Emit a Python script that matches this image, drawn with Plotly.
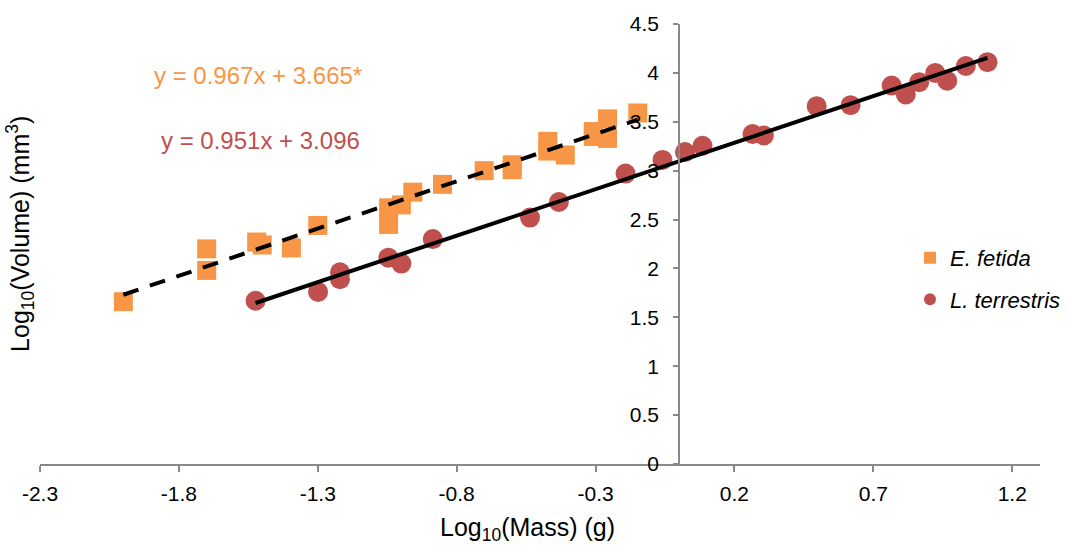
import plotly.graph_objects as go

# ---- data ----
fetida_x = [-2.00, -1.70, -1.70, -1.52, -1.50, -1.395, -1.30, -1.045, -1.045, -0.999, -0.958,
            -0.851, -0.701, -0.60, -0.60, -0.472, -0.472, -0.409, -0.308, -0.308, -0.257, -0.257, -0.148]
fetida_y = [1.66, 2.20, 1.98, 2.27, 2.24, 2.21, 2.44, 2.62, 2.45, 2.65, 2.78,
            2.86, 3.00, 3.06, 3.01, 3.30, 3.20, 3.16, 3.40, 3.35, 3.53, 3.33, 3.59]

terr_x = [-1.524, -1.299, -1.22, -1.22, -1.046, -0.999, -0.886, -0.536, -0.432, -0.192, -0.059,
          0.022, 0.085, 0.265, 0.306, 0.496, 0.618, 0.766, 0.817, 0.865, 0.923, 0.966, 1.033, 1.111]
terr_y = [1.67, 1.76, 1.96, 1.89, 2.11, 2.05, 2.30, 2.52, 2.68, 2.97, 3.11,
          3.19, 3.255, 3.375, 3.36, 3.66, 3.67, 3.87, 3.78, 3.905, 4.00, 3.92, 4.07, 4.11]

fetida_fit = (0.967, 3.665)
terr_fit = (0.951, 3.096)

x_range = [-2.3, 1.3]
y_range = [0, 4.5]
x_ticks = [-2.3, -1.8, -1.3, -0.8, -0.3, 0.2, 0.7, 1.2]
y_ticks = [0, 0.5, 1, 1.5, 2, 2.5, 3, 3.5, 4, 4.5]

ORANGE = "#F79646"
RED = "#C0504D"
AXIS = "#898989"
FONT = "Liberation Sans, Arial, sans-serif"

fig = go.Figure()

fig.add_trace(go.Scatter(x=fetida_x, y=fetida_y, mode="markers", name="<i>E. fetida</i>",
                         legendgroup="a",
                         marker=dict(symbol="square", size=19, color=ORANGE)))
fig.add_trace(go.Scatter(x=terr_x, y=terr_y, mode="markers", name="<i>L. terrestris</i>",
                         legendgroup="b",
                         marker=dict(symbol="circle", size=20, color=RED)))

# trend lines (drawn over the markers)
fx = [min(fetida_x), max(fetida_x)]
fig.add_trace(go.Scatter(x=fx, y=[fetida_fit[0] * v + fetida_fit[1] for v in fx], mode="lines",
                         line=dict(color="black", width=4, dash="16px,12px"), showlegend=False,
                         hoverinfo="skip"))
tx = [min(terr_x), max(terr_x)]
fig.add_trace(go.Scatter(x=tx, y=[terr_fit[0] * v + terr_fit[1] for v in tx], mode="lines",
                         line=dict(color="black", width=4), showlegend=False, hoverinfo="skip"))

ypos = (0 - x_range[0]) / (x_range[1] - x_range[0])

fig.update_layout(
    width=1068, height=548,
    margin=dict(l=40, r=28, t=24, b=84, autoexpand=False),
    paper_bgcolor="white", plot_bgcolor="white",
    font=dict(family=FONT, size=21, color="black"),
    xaxis=dict(range=x_range, tickvals=x_ticks, ticktext=[f"{v:.1f}" for v in x_ticks],
               showgrid=False, zeroline=False, showline=True, linecolor=AXIS, linewidth=1.5,
               ticks="outside", ticklen=6, tickcolor=AXIS, tickwidth=1.5,
               ticklabelstandoff=4, tickfont=dict(family=FONT, size=21, color="black"),
               anchor="y"),
    yaxis=dict(range=y_range, tickvals=y_ticks, ticktext=[f"{v:g}" for v in y_ticks],
               showgrid=False, zeroline=False, showline=True, linecolor=AXIS, linewidth=1.5,
               ticks="outside", ticklen=5, tickcolor=AXIS, tickwidth=1.5,
               tickfont=dict(family=FONT, size=21, color="black"),
               anchor="free", position=ypos, ticklabelstandoff=10),
    legend=dict(x=0.87, y=0.516, xanchor="left", yanchor="top", bgcolor="rgba(0,0,0,0)",
                font=dict(family=FONT, size=22, color="black"), itemsizing="constant",
                tracegroupgap=10),
    showlegend=True,
)

fig.add_annotation(text="Log<sub>10</sub>(Volume) (mm<sup>3</sup>)", textangle=-90,
                   xref="paper", yref="paper", x=-0.02, y=0.523, xanchor="center", yanchor="middle",
                   showarrow=False, font=dict(family=FONT, size=25, color="black"))
fig.add_annotation(text="Log<sub>10</sub>(Mass) (g)",
                   xref="paper", yref="paper", x=0.487, y=-0.147, xanchor="center", yanchor="middle",
                   showarrow=False, borderpad=0, font=dict(family=FONT, size=25, color="black"))
fig.add_annotation(text=f"y = {fetida_fit[0]:.3f}x + {fetida_fit[1]:.3f}*", xref="x", yref="y",
                   x=-1.515, y=3.97, showarrow=False, font=dict(family=FONT, size=24, color=ORANGE))
fig.add_annotation(text=f"y = {terr_fit[0]:.3f}x + {terr_fit[1]:.3f}", xref="x", yref="y",
                   x=-1.505, y=3.31, showarrow=False, font=dict(family=FONT, size=24, color=RED))

fig.write_html("out.html")
